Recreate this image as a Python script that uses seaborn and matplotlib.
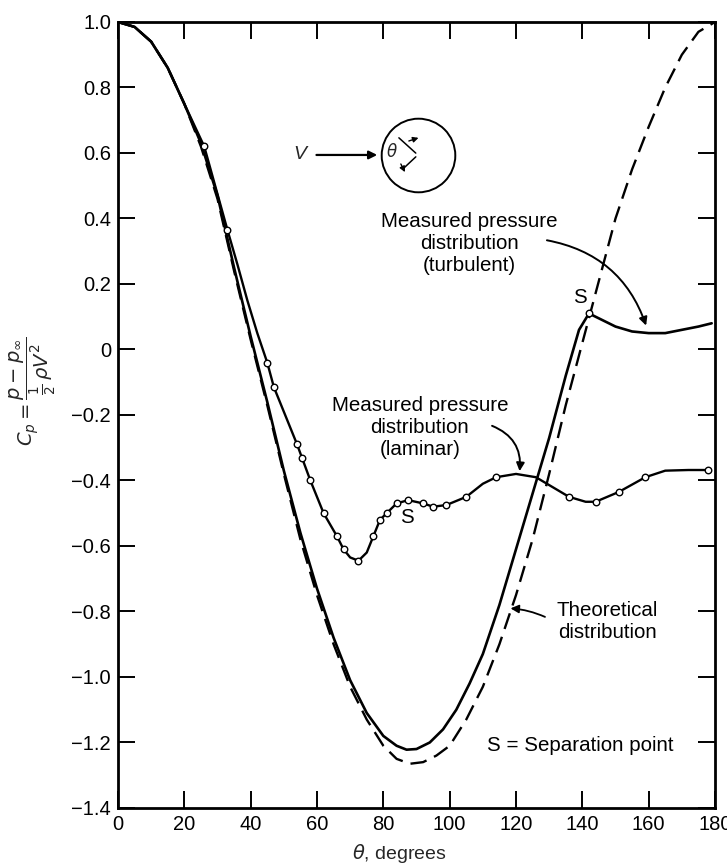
import matplotlib
matplotlib.use("Agg")
import matplotlib.pyplot as plt
import seaborn as sns

# theoretical distribution (dashed)
theory_theta = [0, 5, 10, 15, 20, 25, 30, 35, 40, 45, 50, 55, 60, 65, 70, 75, 80, 84, 88,
                92, 96, 100, 105, 110, 115, 120, 125, 130, 135, 140, 145, 150, 155, 160,
                165, 170, 175, 180]
theory_cp = [1.00, 0.985, 0.94, 0.86, 0.75, 0.62, 0.46, 0.24, 0.03, -0.17, -0.38, -0.58,
             -0.75, -0.90, -1.03, -1.13, -1.21, -1.25, -1.265, -1.26, -1.24, -1.21, -1.13,
             -1.03, -0.90, -0.75, -0.58, -0.38, -0.17, 0.02, 0.21, 0.40, 0.55, 0.68,
             0.80, 0.90, 0.97, 1.00]

# measured, turbulent
turb_theta = [0, 5, 10, 15, 20, 25, 30, 35, 40, 45, 50, 55, 60, 65, 70, 75, 80, 84, 87,
              90, 94, 98, 102, 106, 110, 115, 120, 125, 130, 135, 139, 142, 146, 150,
              155, 160, 165, 170, 175, 179]
turb_cp = [1.00, 0.985, 0.94, 0.86, 0.75, 0.63, 0.47, 0.25, 0.04, -0.16, -0.37, -0.56,
           -0.73, -0.88, -1.01, -1.11, -1.18, -1.21, -1.222, -1.22, -1.20, -1.16, -1.10,
           -1.02, -0.93, -0.78, -0.61, -0.44, -0.27, -0.08, 0.06, 0.11, 0.09, 0.07,
           0.055, 0.05, 0.05, 0.06, 0.07, 0.08]
turb_mark_theta = [26, 33, 142]
turb_mark_cp = [0.62, 0.365, 0.11]

# measured, laminar
lam_theta = [0, 5, 10, 15, 20, 26, 33, 36, 39, 42, 45, 47, 50, 54, 58, 62, 66, 68, 70,
             72.5, 75, 77, 79, 81, 84, 87.5, 92, 95, 99, 105, 110, 114, 120, 126, 131,
             136, 141, 144, 151, 159, 165, 172, 178]
lam_cp = [1.00, 0.985, 0.94, 0.86, 0.75, 0.62, 0.365, 0.26, 0.15, 0.05, -0.04, -0.115,
          -0.19, -0.29, -0.40, -0.50, -0.57, -0.61, -0.635, -0.645, -0.62, -0.57, -0.52,
          -0.50, -0.47, -0.46, -0.47, -0.48, -0.475, -0.45, -0.41, -0.39, -0.38, -0.39,
          -0.42, -0.45, -0.465, -0.465, -0.435, -0.39, -0.37, -0.368, -0.368]
lam_mark_theta = [45, 47, 54, 55.5, 58, 62, 66, 68, 72.5, 77, 79, 81, 84, 87.5, 92, 95,
                  99, 105, 114, 136, 144, 151, 159, 178]
lam_mark_cp = [-0.04, -0.115, -0.29, -0.33, -0.40, -0.50, -0.57, -0.61, -0.645, -0.57,
               -0.52, -0.50, -0.47, -0.46, -0.47, -0.48, -0.475, -0.45, -0.39, -0.45,
               -0.465, -0.435, -0.39, -0.368]

x_ticks = [0, 20, 40, 60, 80, 100, 120, 140, 160, 180]
y_ticks = [1.0, 0.8, 0.6, 0.4, 0.2, 0.0, -0.2, -0.4, -0.6, -0.8, -1.0, -1.2, -1.4]

sns.set_theme(style="ticks")
plt.rcParams['font.family'] = ['Liberation Sans', 'DejaVu Sans']
plt.rcParams['mathtext.fontset'] = 'dejavusans'

fig = plt.figure(figsize=(7.27, 8.66), dpi=100)
ax = fig.add_axes([0.1623, 0.067, 0.8212, 0.9076])

sns.lineplot(x=theory_theta, y=theory_cp, ax=ax, color='black', lw=1.7,
             linestyle=(0, (7, 3.5)))
sns.lineplot(x=turb_theta, y=turb_cp, ax=ax, color='black', lw=1.9)
sns.lineplot(x=lam_theta, y=lam_cp, ax=ax, color='black', lw=1.7)
sns.scatterplot(x=lam_mark_theta + turb_mark_theta, y=lam_mark_cp + turb_mark_cp, ax=ax,
                s=22, facecolor='white', edgecolor='black', linewidth=1.0, zorder=5)

ax.set_xlim(0, 180)
ax.set_ylim(-1.4, 1.0)
ax.set_xticks(x_ticks)
ax.set_yticks(y_ticks)
ax.set_yticklabels(["0" if v == 0 else f"{v:.1f}".replace("-", "\u2212") for v in y_ticks])
for s in ax.spines.values():
    s.set_linewidth(2.0)
    s.set_color('black')
ax.tick_params(direction='in', length=12, width=1.4, labelsize=14.5, pad=5,
               top=True, right=True, colors='black')

ax.set_xlabel(r"$\theta$, degrees", fontsize=14)
ax.xaxis.set_label_coords(0.472, -0.043)
ax.set_ylabel(r"$C_p = \dfrac{p - p_\infty}{\frac{1}{2}\,\rho V^2}$", fontsize=14)
ax.yaxis.set_label_coords(-0.10, 0.53)

# annotations
txt = dict(fontsize=14.8, ha='center', va='center', color='black')
ax.text(106, 0.325, "Measured pressure\ndistribution\n(turbulent)", linespacing=1.2, **txt)
ax.annotate("", xy=(159.5, 0.065), xytext=(128.5, 0.335),
            arrowprops=dict(arrowstyle='-|>', color='black', lw=1.4,
                            connectionstyle='arc3,rad=-0.3', mutation_scale=12))
ax.text(91, -0.237, "Measured pressure\ndistribution\n(laminar)", linespacing=1.2, **txt)
ax.annotate("", xy=(121, -0.38), xytext=(112, -0.23),
            arrowprops=dict(arrowstyle='-|>', color='black', lw=1.4,
                            connectionstyle='arc3,rad=-0.4', mutation_scale=12))
ax.text(147.5, -0.832, "Theoretical\ndistribution", linespacing=1.2, **txt)
ax.annotate("", xy=(117.5, -0.79), xytext=(129.5, -0.82),
            arrowprops=dict(arrowstyle='-|>', color='black', lw=1.3,
                            connectionstyle='arc3,rad=0.1', mutation_scale=12))
ax.text(139.3, -1.208, "S = Separation point", **txt)
ax.text(139.3, 0.16, "S", **txt)
ax.text(87.1, -0.514, "S", **txt)

# inset sketch of the cylinder
cx, cy = 90.4, 0.594
ax.plot([cx], [cy], marker='o', ms=53, mfc='none', mec='black', mew=1.4)
ax.text(54.9, cy, "V", fontsize=14, fontstyle='italic', ha='center', va='center')
ax.annotate("", xy=(79.0, cy), xytext=(59.0, cy),
            arrowprops=dict(arrowstyle='-|>', color='black', lw=1.6, mutation_scale=12))
px = 0.72
ax.annotate("", xy=(cx, cy), xytext=(-21 * px, 19 * px), textcoords='offset points',
            arrowprops=dict(arrowstyle='-', color='black', lw=1.1))
ax.annotate("", xy=(cx, cy), xytext=(-16 * px, -15 * px), textcoords='offset points',
            arrowprops=dict(arrowstyle='-', color='black', lw=1.1))
ax.annotate(r"$\theta$", xy=(cx, cy), xytext=(-26 * px, 4 * px), textcoords='offset points',
            fontsize=12, ha='center', va='center')
ax.annotate("", xy=(cx + 1.0, cy + 0.055), xytext=(cx - 3.5, cy + 0.04),
            arrowprops=dict(arrowstyle='-|>', color='black', lw=1.0, mutation_scale=8))
ax.annotate("", xy=(cx - 3.5, cy - 0.06), xytext=(cx - 5.5, cy - 0.02),
            arrowprops=dict(arrowstyle='-|>', color='black', lw=1.0, mutation_scale=8))

plt.savefig("out.png", dpi=100)
